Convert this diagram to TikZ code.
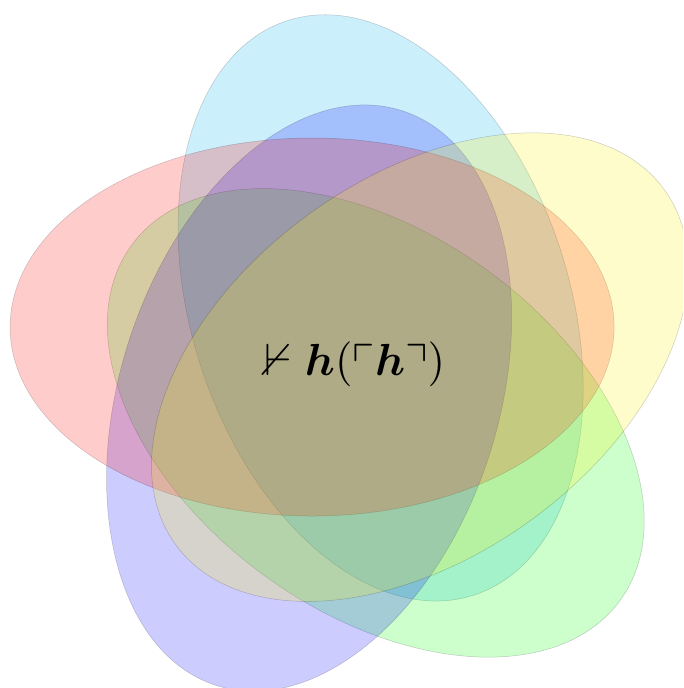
\documentclass[tikz,border=0pt]{standalone}
\usepackage{amssymb}
\usepackage{amsmath}
\usepackage{bm}
\tikzset{venn/.style={draw=black, line width=0.5pt, opacity=0.2}}
\begin{document}
\begin{tikzpicture}[x=1pt,y=1pt]
\useasboundingbox (0,0) rectangle (683,688);
\clip (0,0) rectangle (683,688);
\coordinate (C) at (359.5,323.4);
\foreach \col/\rot in {cyan/-72, green/-216, blue/-288, red/0, yellow/-144}{
  \begin{scope}[shift={(C)}, rotate=\rot]
    \path[venn, fill=\col] (141.6:60.5) ellipse [x radius=302, y radius=189];
  \end{scope}
}
\node[scale=4.5] (t) at (355,324) {$\nvdash \bm{h}(\ulcorner \bm{h} \urcorner)$};
\end{tikzpicture}
\end{document}
